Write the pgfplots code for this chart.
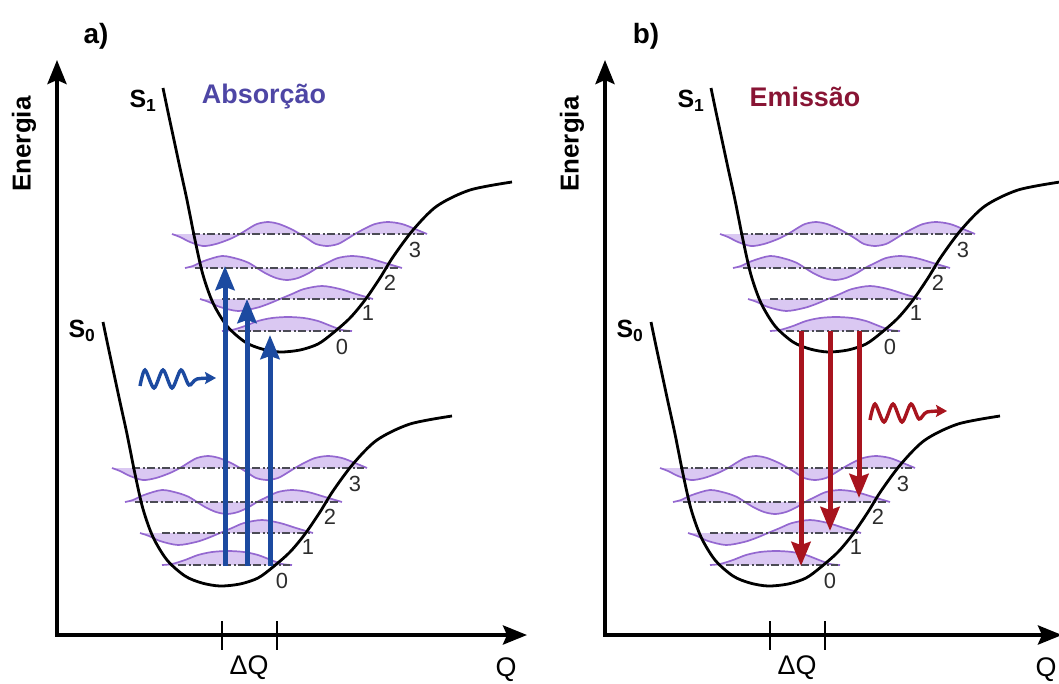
\documentclass[border=0pt]{standalone}
\usepackage{pgfplots}
\pgfplotsset{compat=1.18}
\usepackage{pgfplotstable}
\usepackage{fontspec}
\setmainfont{Liberation Sans}
\usetikzlibrary{arrows.meta}

\definecolor{wavefill}{RGB}{218,200,242}
\definecolor{wavedraw}{RGB}{148,104,208}
\definecolor{dashc}{RGB}{75,75,85}
\definecolor{absblue}{RGB}{28,74,160}
\definecolor{abstxt}{RGB}{78,70,165}
\definecolor{emred}{RGB}{168,20,30}
\definecolor{emtxt}{RGB}{136,20,52}
\definecolor{numc}{RGB}{45,45,45}

% potential curve (S1 of panel a, pixel coordinates)
\pgfplotstableread{
x y
163 88
168 112
174 140
180 168
187 200
195 240
203 275
213 303
227 326
245 342
262 349
280 352
300 350
318 344
333 333
350 318
365 300
380 278
393 257
413 230
437 206
470 190
512 182
}\curve

% vibrational wavefunctions
\pgfplotstableread{
x y
222 331
232 330
245 326
258 321
272 318
288 317
304 318
318 321
331 326
342 330
352 331
}\wZero
\pgfplotstableread{
x y
200 299
209 302
220 307
238 311
256 308
268 304
280 299
292 294
304 289
322 286
340 289
356 294
373 299
}\wOne
\pgfplotstableread{
x y
185 268
193 266
204 261
222 256
238 259
249 263
257 268
265 273
276 278
287 280
298 278
309 273
317 268
327 263
338 258
352 256
368 258
385 263
402 268
}\wTwo
\pgfplotstableread{
x y
172 234
180 237
190 242
203 246
216 244
230 239
240 234
248 229
257 224
268 222
279 224
291 229
300 234
308 239
316 244
327 246
338 244
347 239
355 234
364 229
375 224
388 222
402 224
415 229
427 234
}\wThree

% vibrational levels
\pgfplotstableread{
x y
238 331
350 331
}\lvZero
\pgfplotstableread{
x y
222 299
372 299
}\lvOne
\pgfplotstableread{
x y
195 268
400 268
}\lvTwo
\pgfplotstableread{
x y
192 234
424 234
}\lvThree

\newcommand\wavep[3]{\addplot[smooth, draw=wavedraw, line width=1.7bp, fill=wavefill] table[x expr=\thisrow{x}+#2, y expr=\thisrow{y}+#3]{#1};}
\newcommand\levelp[3]{\addplot[dashc, line width=2bp, dash pattern=on 8bp off 2.5bp on 2bp off 2.5bp] table[x expr=\thisrow{x}+#2, y expr=\thisrow{y}+#3]{#1};}
\newcommand\drawwell[2]{%
  \wavep{\wZero}{#1}{#2}
  \wavep{\wOne}{#1}{#2}
  \wavep{\wTwo}{#1}{#2}
  \wavep{\wThree}{#1}{#2}
  \levelp{\lvZero}{#1}{#2}
  \levelp{\lvOne}{#1}{#2}
  \levelp{\lvTwo}{#1}{#2}
  \levelp{\lvThree}{#1}{#2}
  \addplot[smooth, black, line width=2.8bp] table[x expr=\thisrow{x}+#1, y expr=\thisrow{y}+#2]{\curve};
}

\begin{document}
\begin{tikzpicture}
\path[use as bounding box, clip] (0,0) rectangle (1059bp,684bp);
\begin{axis}[
  at={(0,0)}, anchor=south west,
  width=1059bp, height=684bp, scale only axis,
  xmin=0, xmax=1059, ymin=0, ymax=684, y dir=reverse,
  hide axis, clip=true,
]
% ---------- panel a ----------
\drawwell{0}{0}
\drawwell{-60}{234}
% axes
\addplot[black, line width=4bp, {Stealth[length=24bp,width=19bp,inset=4bp]}-{Stealth[length=24bp,width=19bp,inset=4bp]}] coordinates {(57,60) (57,635) (527,635)};
\addplot[black, line width=2.5bp] coordinates {(222,621) (222,650)};
\addplot[black, line width=2.5bp] coordinates {(277,621) (277,650)};
% absorption arrows
\addplot[absblue, line width=5bp, -{Stealth[length=24bp,width=19bp,inset=3bp]}] coordinates {(225,566) (225,266)};
\addplot[absblue, line width=5bp, -{Stealth[length=24bp,width=19bp,inset=3bp]}] coordinates {(247,566) (247,299)};
\addplot[absblue, line width=5bp, -{Stealth[length=24bp,width=19bp,inset=3bp]}] coordinates {(270,566) (270,335)};
% photon
\addplot[absblue, line width=3.4bp, smooth, -{Stealth[length=11bp,width=12bp,inset=2bp]}] coordinates {(140,386) (145,370) (154,388) (163,370) (172,388) (181,370) (189,385) (197,379) (216,378)};

% ---------- panel b ----------
\drawwell{548}{0}
\drawwell{488}{234}
\addplot[black, line width=4bp, {Stealth[length=24bp,width=19bp,inset=4bp]}-{Stealth[length=24bp,width=19bp,inset=4bp]}] coordinates {(605,60) (605,635) (1062,635)};
\addplot[black, line width=2.5bp] coordinates {(770,621) (770,650)};
\addplot[black, line width=2.5bp] coordinates {(825,621) (825,650)};
% emission arrows
\addplot[emred, line width=5bp, -{Stealth[length=24bp,width=19bp,inset=3bp]}] coordinates {(801,331) (801,566)};
\addplot[emred, line width=5bp, -{Stealth[length=24bp,width=19bp,inset=3bp]}] coordinates {(830,331) (830,531)};
\addplot[emred, line width=5bp, -{Stealth[length=24bp,width=19bp,inset=3bp]}] coordinates {(859,331) (859,498)};
\addplot[emred, line width=3.4bp, smooth, -{Stealth[length=11bp,width=12bp,inset=2bp]}] coordinates {(870,420) (875,404) (884,422) (893,404) (902,422) (911,404) (919,419) (927,412) (947,411)};

% ---------- texts ----------
\node[inner sep=0pt] at (axis cs:96,36) {\fontsize{28}{32}\selectfont\bfseries a)};
\node[inner sep=0pt] at (axis cs:646,36) {\fontsize{28}{32}\selectfont\bfseries b)};
\node[inner sep=0pt, rotate=90] at (axis cs:24,144) {\fontsize{26}{30}\selectfont\bfseries Energia};
\node[inner sep=0pt, rotate=90] at (axis cs:572,144) {\fontsize{26}{30}\selectfont\bfseries Energia};
\node[inner sep=0pt] at (axis cs:143,101) {\fontsize{25}{28}\selectfont\bfseries S\textsubscript{1}};
\node[inner sep=0pt] at (axis cs:691,101) {\fontsize{25}{28}\selectfont\bfseries S\textsubscript{1}};
\node[inner sep=0pt] at (axis cs:82,331) {\fontsize{25}{28}\selectfont\bfseries S\textsubscript{0}};
\node[inner sep=0pt] at (axis cs:630,331) {\fontsize{25}{28}\selectfont\bfseries S\textsubscript{0}};
\node[inner sep=0pt, text=abstxt] at (axis cs:264,97) {\fontsize{27}{30}\selectfont\bfseries Absorção};
\node[inner sep=0pt, text=emtxt] at (axis cs:805,97) {\fontsize{27}{30}\selectfont\bfseries Emissão};
\pgfplotsinvokeforeach{0,548}{
  \node[inner sep=0pt, text=numc] at (axis cs:342+#1,347) {\fontsize{22}{25}\selectfont 0};
  \node[inner sep=0pt, text=numc] at (axis cs:368+#1,313) {\fontsize{22}{25}\selectfont 1};
  \node[inner sep=0pt, text=numc] at (axis cs:390+#1,283) {\fontsize{22}{25}\selectfont 2};
  \node[inner sep=0pt, text=numc] at (axis cs:415+#1,250) {\fontsize{22}{25}\selectfont 3};
  \node[inner sep=0pt, text=numc] at (axis cs:282+#1,581) {\fontsize{22}{25}\selectfont 0};
  \node[inner sep=0pt, text=numc] at (axis cs:308+#1,547) {\fontsize{22}{25}\selectfont 1};
  \node[inner sep=0pt, text=numc] at (axis cs:330+#1,517) {\fontsize{22}{25}\selectfont 2};
  \node[inner sep=0pt, text=numc] at (axis cs:355+#1,484) {\fontsize{22}{25}\selectfont 3};
  \node[inner sep=0pt] at (axis cs:249+#1,668) {\fontsize{27}{30}\selectfont ΔQ};
}
\node[inner sep=0pt] at (axis cs:506,670) {\fontsize{27}{30}\selectfont Q};
\node[inner sep=0pt] at (axis cs:1046,670) {\fontsize{27}{30}\selectfont Q};
\end{axis}
\end{tikzpicture}
\end{document}
